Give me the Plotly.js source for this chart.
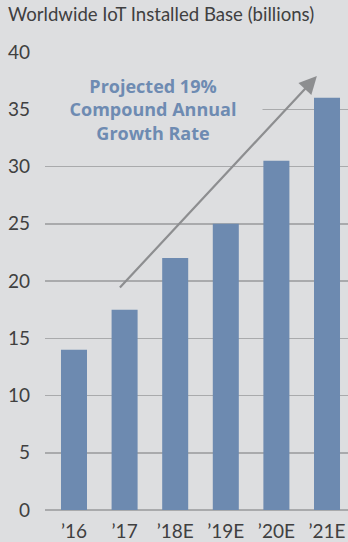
<!DOCTYPE html>
<html>
<head>
<meta charset="utf-8">
<script src="https://cdn.plot.ly/plotly-3.0.1.min.js"></script>
<style>
html,body{margin:0;padding:0;background:#dddee0;}
#chart{width:348px;height:542px;}
</style>
</head>
<body>
<div id="chart"></div>
<script>
var categories = ["\u201916", "\u201917", "\u201918E", "\u201919E", "\u201920E", "\u201921E"];
var installedBase = [14, 17.5, 22, 25, 30.5, 36];
var yTickValues = [0, 5, 10, 15, 20, 25, 30, 35, 40];
var chartTitle = "Worldwide IoT Installed Base (billions)";
var noteText = "Projected 19%<br>Compound Annual<br>Growth Rate";
var arrowFrom = {x: 0.88, y: 19.3};
var arrowTo = {x: 4.8, y: 37.9};

var BG = "#dddee0";
var FONT = "Lato, 'Open Sans', sans-serif";

var data = [{
  type: "bar",
  x: categories,
  y: installedBase,
  width: 0.514,
  marker: {color: "#6d8ab0"},
  hoverinfo: "skip"
}];

var layout = {
  width: 348, height: 542,
  paper_bgcolor: BG, plot_bgcolor: BG,
  margin: {l: 45, r: 0, t: 52, b: 32},
  showlegend: false,
  title: {
    text: chartTitle,
    font: {family: FONT, size: 18.6, color: "#404040"},
    x: 0, xref: "paper", xanchor: "left", y: 1, yref: "container", yanchor: "top",
    pad: {l: 8 - 45, t: 8}
  },
  xaxis: {
    type: "category",
    range: [-0.573, 5.415],
    showgrid: false, zeroline: false, showline: false,
    ticks: "",
    ticklabelstandoff: 8,
    tickfont: {family: FONT, size: 19, color: "#404040"},
    fixedrange: true
  },
  yaxis: {
    range: [0, 40],
    tickvals: yTickValues,
    showgrid: true, gridcolor: "#a9aaac", gridwidth: 1.5,
    zeroline: true, zerolinecolor: "#a9aaac", zerolinewidth: 1.5,
    showline: false, ticks: "",
    ticklabelstandoff: 14,
    tickfont: {family: FONT, size: 19, color: "#404040"},
    fixedrange: true
  },
  annotations: [
    {
      xref: "paper", yref: "y",
      x: 0.355, y: 35.0,
      xanchor: "center", yanchor: "middle",
      text: "<b>" + noteText + "</b>",
      showarrow: false,
      align: "center",
      font: {family: "'Open Sans', Lato, sans-serif", size: 18, color: "#6e8bb2"},
      bgcolor: BG,
      width: 210, borderpad: 4
    },
    {
      xref: "x", yref: "y", axref: "x", ayref: "y",
      x: arrowTo.x, y: arrowTo.y,
      ax: arrowFrom.x, ay: arrowFrom.y,
      text: "",
      showarrow: true,
      arrowhead: 2, arrowsize: 1.6, arrowwidth: 2.2,
      arrowcolor: "#8d8e90", standoff: 0
    }
  ]
};

Plotly.newPlot("chart", data, layout, {displayModeBar: false, staticPlot: true});
</script>
</body>
</html>
